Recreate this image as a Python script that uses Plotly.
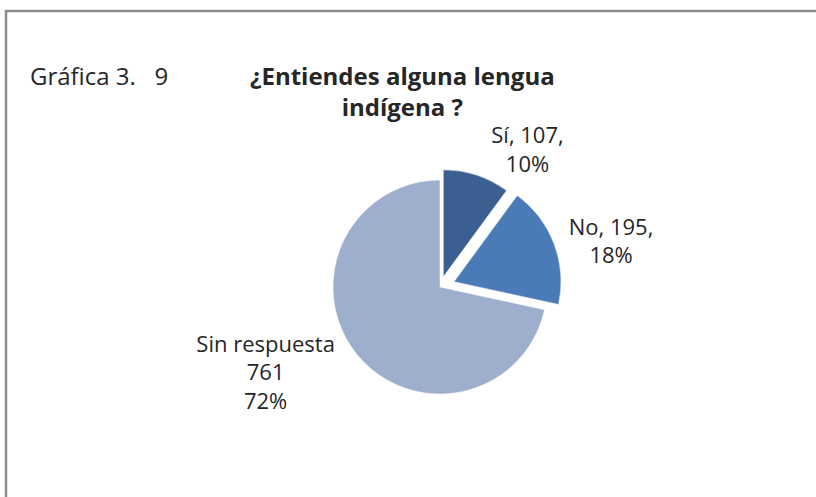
import plotly.graph_objects as go

categories = ["Sí", "No", "Sin respuesta"]
values = [107, 195, 761]
slice_labels = ["Sí, 107,<br>10%", "No, 195,<br>18%", "Sin respuesta<br>761<br>72%"]
colors = ["#3a5f90", "#4a7bb6", "#9dafcc"]
pulls = [0.10, 0.14, 0.0]

W, H = 816, 497
FONT = "'Open Sans', Lato, sans-serif"

fig = go.Figure()
fig.add_trace(go.Pie(
    labels=categories,
    values=values,
    text=slice_labels,
    texttemplate="%{text}",
    textinfo="text",
    textposition="outside",
    textfont=dict(family=FONT, size=22, color="#262626"),
    marker=dict(colors=colors, line=dict(color="#ffffff", width=0.5)),
    pull=pulls,
    sort=False,
    direction="clockwise",
    rotation=0,
    showlegend=False,
    hoverinfo="label+value+percent",
    domain=dict(x=[(440 - 122) / W, (440 + 122) / W], y=[1 - (287 + 122) / H, 1 - (287 - 122) / H]),
))

fig.add_annotation(
    text="Gráfica 3.\u00a0\u00a0\u00a09", xref="paper", yref="paper",
    x=28 / W, y=1 - 75 / H, xanchor="left", yanchor="middle", showarrow=False,
    font=dict(family=FONT, size=24, color="#262626"),
)
fig.add_annotation(
    text="<b>¿Entiendes alguna lengua</b><br><b>indígena ?</b>", xref="paper", yref="paper",
    x=402 / W, y=1 - 91 / H, xanchor="center", yanchor="middle", showarrow=False,
    align="center",
    font=dict(family=FONT, size=24, color="#262626"),
)

# chart area frame (only top and left edges visible in the cropped image)
fig.add_shape(type="rect", xref="paper", yref="paper",
              x0=6 / W, x1=1.1, y0=-0.1, y1=1 - 11 / H,
              line=dict(color="#8c8c8c", width=2.5), fillcolor="rgba(0,0,0,0)")

fig.update_layout(
    width=W, height=H,
    margin=dict(l=0, r=0, t=0, b=0),
    paper_bgcolor="white", plot_bgcolor="white",
)

fig.write_html("out.html", config={"displayModeBar": False},
               post_script="document.body.style.margin='0';")
